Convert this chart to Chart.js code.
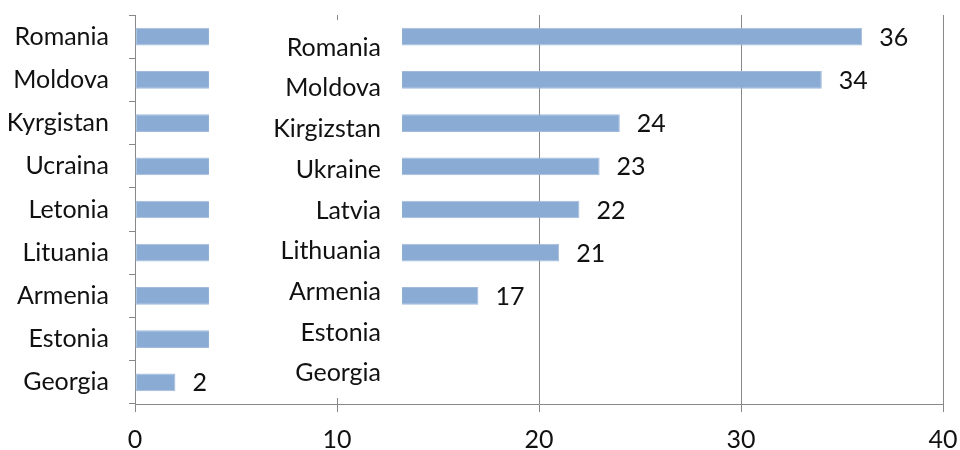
<!DOCTYPE html>
<html>
<head>
<meta charset="utf-8">
<script src="https://cdn.jsdelivr.net/npm/chart.js@4/dist/chart.umd.min.js"></script>
<style>
  html, body { margin: 0; padding: 0; background: #fff; }
  #wrap { width: 960px; height: 450px; }
</style>
</head>
<body>
<div id="wrap"><canvas id="c" width="960" height="450"></canvas></div>
<script>
// Data
const categories = ['Romania', 'Moldova', 'Kyrgistan', 'Ucraina', 'Letonia', 'Lituania', 'Armenia', 'Estonia', 'Georgia'];
const englishLabels = ['Romania', 'Moldova', 'Kirgizstan', 'Ukraine', 'Latvia', 'Lithuania', 'Armenia', 'Estonia', 'Georgia'];
const values = [36, 34, 24, 23, 22, 21, 17, 10, 2];
const xTicks = [0, 10, 20, 30, 40];
// The white pasted box that hides part of the bars (in axis units)
const overlayRange = [3.66, 13.22];

const FONT = 'Lato, "Open Sans", sans-serif';
const FSIZE = 25;
const GRID = '#888888';

const overlayPlugin = {
  id: 'overlay',
  afterDatasetsDraw(chart) {
    const ctx = chart.ctx;
    const xs = chart.scales.x, ys = chart.scales.y, area = chart.chartArea;
    const meta = chart.getDatasetMeta(0);
    ctx.save();
    ctx.font = FSIZE + 'px ' + FONT;
    ctx.fillStyle = '#111';
    ctx.textBaseline = 'middle';
    ctx.textAlign = 'left';
    meta.data.forEach((bar, i) => {
      ctx.fillText(String(values[i]), bar.x + 17, bar.y + 1);
    });
    // white box
    const x0 = xs.getPixelForValue(overlayRange[0]);
    const x1 = xs.getPixelForValue(overlayRange[1]);
    ctx.fillStyle = '#ffffff';
    ctx.fillRect(x0, area.top + 5, x1 - x0, area.bottom - area.top - 11);
    // English labels in the box
    ctx.fillStyle = '#111';
    ctx.textAlign = 'right';
    const n = englishLabels.length;
    const yFirst = ys.getPixelForValue(0) + 11;
    const yLast = ys.getPixelForValue(n - 1) - 9;
    englishLabels.forEach((lab, i) => {
      const y = yFirst + (yLast - yFirst) * i / (n - 1);
      ctx.fillText(lab, x1 - 21, y);
    });
    ctx.restore();
  }
};

new Chart(document.getElementById('c'), {
  type: 'bar',
  data: {
    labels: categories,
    datasets: [{
      data: values,
      backgroundColor: '#8aabd3',
      borderColor: '#a2bbdd',
      borderWidth: 1,
      borderSkipped: false,
      barPercentage: 0.41,
      categoryPercentage: 1
    }]
  },
  options: {
    indexAxis: 'y',
    responsive: false,
    animation: false,
    devicePixelRatio: 1,
    layout: { padding: { top: 15, right: 17, left: 0, bottom: 0 } },
    plugins: { legend: { display: false }, tooltip: { enabled: false } },
    scales: {
      x: {
        min: 0, max: 40,
        afterBuildTicks(scale) { scale.ticks = xTicks.map(v => ({ value: v })); },
        afterFit(scale) { scale.height = 46; scale.paddingLeft = 0; scale.paddingRight = 0; },
        grid: { color: GRID, lineWidth: 1, drawTicks: true, tickLength: 8, tickColor: GRID },
        border: { color: GRID, width: 1 },
        ticks: { color: '#111', font: { family: FONT, size: FSIZE }, padding: 13, maxRotation: 0 }
      },
      y: {
        afterFit(scale) { scale.width = 135; scale.paddingTop = 0; scale.paddingBottom = 0; },
        grid: { drawOnChartArea: false, drawTicks: true, tickLength: 6, color: GRID, offset: true },
        border: { color: GRID, width: 1 },
        ticks: { color: '#111', font: { family: FONT, size: FSIZE }, padding: 20 }
      }
    }
  },
  plugins: [overlayPlugin]
});
</script>
</body>
</html>
